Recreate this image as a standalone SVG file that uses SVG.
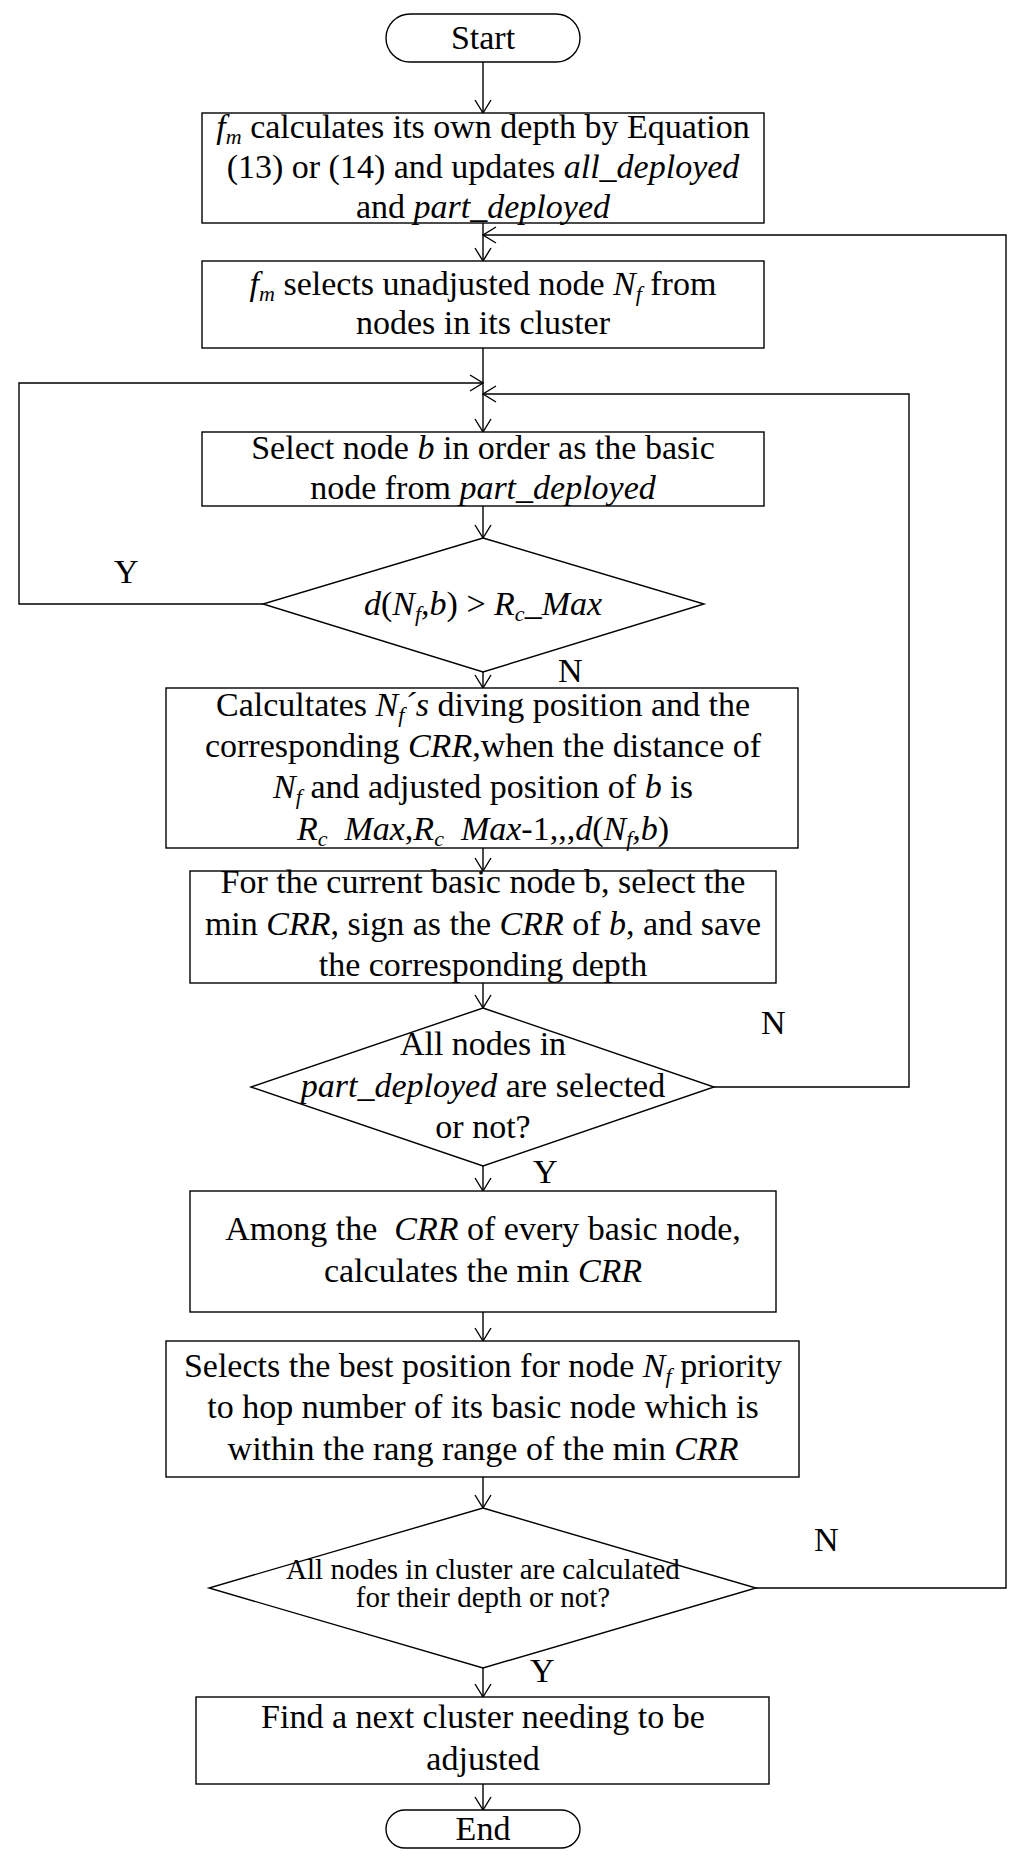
<svg xmlns="http://www.w3.org/2000/svg" width="1024" height="1858" viewBox="0 0 1024 1858">
<style>
.bg{fill:#fff}
.box{fill:#fff;stroke:#000;stroke-width:1.4}
.ln{fill:none;stroke:#000;stroke-width:1.4}
.t{font-family:"Liberation Serif","Times New Roman",serif;font-size:34px;text-anchor:middle;fill:#000}
.lbl{font-family:"Liberation Serif","Times New Roman",serif;font-size:34px;fill:#000}
.sm{font-size:29px}
.i{font-style:italic}
.s{font-size:22px;font-style:italic}
</style>
<defs>
<marker id="ar" markerUnits="userSpaceOnUse" markerWidth="20" markerHeight="20" viewBox="-14 -10 16 20" refX="0" refY="0" orient="auto">
<path d="M-13,-8 L0,0 L-13,8" fill="none" stroke="#000" stroke-width="1.4"/>
</marker>
</defs>
<rect class="bg" x="0" y="0" width="1024" height="1858"/>

<g id="connectors">
<line class="ln" x1="483" y1="62" x2="483" y2="113" marker-end="url(#ar)"/>
<line class="ln" x1="483" y1="223" x2="483" y2="261" marker-end="url(#ar)"/>
<line class="ln" x1="483" y1="348" x2="483" y2="432" marker-end="url(#ar)"/>
<line class="ln" x1="483" y1="506" x2="483" y2="538" marker-end="url(#ar)"/>
<line class="ln" x1="483" y1="672" x2="483" y2="688" marker-end="url(#ar)"/>
<line class="ln" x1="483" y1="848" x2="483" y2="871" marker-end="url(#ar)"/>
<line class="ln" x1="483" y1="983" x2="483" y2="1008" marker-end="url(#ar)"/>
<line class="ln" x1="483" y1="1166" x2="483" y2="1191" marker-end="url(#ar)"/>
<line class="ln" x1="483" y1="1312" x2="483" y2="1341" marker-end="url(#ar)"/>
<line class="ln" x1="483" y1="1477" x2="483" y2="1508" marker-end="url(#ar)"/>
<line class="ln" x1="483" y1="1668" x2="483" y2="1697" marker-end="url(#ar)"/>
<line class="ln" x1="483" y1="1784" x2="483" y2="1810" marker-end="url(#ar)"/>
<polyline class="ln" points="263,604 19,604 19,383 483,383" marker-end="url(#ar)"/>
<polyline class="ln" points="714,1087 909,1087 909,394 483,394" marker-end="url(#ar)"/>
<polyline class="ln" points="756,1588 1006,1588 1006,235 483,235" marker-end="url(#ar)"/>
<text class="lbl" x="114" y="583">Y</text>
<text class="lbl" x="558" y="682">N</text>
<text class="lbl" x="761" y="1034">N</text>
<text class="lbl" x="533" y="1183">Y</text>
<text class="lbl" x="814" y="1551">N</text>
<text class="lbl" x="530" y="1682">Y</text>
</g>

<g id="start">
<rect class="box" x="386" y="14" width="194" height="48" rx="24"/>
<text class="t" x="483" y="49">Start</text>
</g>

<g id="box1">
<rect class="box" x="202" y="113" width="562" height="110"/>
<text class="t" x="483" y="138"><tspan class="i">f</tspan><tspan class="s" dy="6">m</tspan><tspan dy="-6"> calculates its own depth by Equation</tspan></text>
<text class="t" x="483" y="178">(13) or (14) and updates <tspan class="i">all_deployed</tspan></text>
<text class="t" x="483" y="218">and <tspan class="i">part_deployed</tspan></text>
</g>

<g id="box2">
<rect class="box" x="202" y="261" width="562" height="87"/>
<text class="t" x="483" y="295"><tspan class="i">f</tspan><tspan class="s" dy="6">m</tspan><tspan dy="-6"> selects unadjusted node </tspan><tspan class="i">N</tspan><tspan class="s" dy="6">f</tspan><tspan dy="-6"> from</tspan></text>
<text class="t" x="483" y="334">nodes in its cluster</text>
</g>

<g id="box3">
<rect class="box" x="202" y="432" width="562" height="74"/>
<text class="t" x="483" y="459">Select node <tspan class="i">b</tspan> in order as the basic</text>
<text class="t" x="483" y="499">node from <tspan class="i">part_deployed</tspan></text>
</g>

<g id="decision1">
<polygon class="box" points="483,538 704,604 483,672 263,604"/>
<text class="t" x="483" y="615"><tspan class="i">d</tspan>(<tspan class="i">N</tspan><tspan class="s" dy="6">f</tspan><tspan class="i" dy="-6">,b</tspan>) &gt; <tspan class="i">R</tspan><tspan class="s" dy="6">c</tspan><tspan class="i" dy="-6">_Max</tspan></text>
</g>

<g id="box4">
<rect class="box" x="166" y="688" width="632" height="160"/>
<text class="t" x="483" y="716">Calcultates <tspan class="i">N</tspan><tspan class="s" dy="6">f</tspan><tspan class="i" dy="-6">´s</tspan> diving position and the</text>
<text class="t" x="483" y="757">corresponding <tspan class="i">CRR</tspan>,when the distance of</text>
<text class="t" x="483" y="798"><tspan class="i">N</tspan><tspan class="s" dy="6">f</tspan><tspan dy="-6"> and adjusted position of </tspan><tspan class="i">b</tspan> is</text>
<text class="t" x="483" y="840"><tspan class="i">R</tspan><tspan class="s" dy="6">c</tspan><tspan class="i" dy="-6">&#160; Max</tspan>,<tspan class="i">R</tspan><tspan class="s" dy="6">c</tspan><tspan class="i" dy="-6">&#160; Max</tspan>-1,,,<tspan class="i">d</tspan>(<tspan class="i">N</tspan><tspan class="s" dy="6">f</tspan><tspan class="i" dy="-6">,b</tspan>)</text>
</g>

<g id="box5">
<rect class="box" x="190" y="871" width="586" height="112"/>
<text class="t" x="483" y="893">For the current basic node b, select the</text>
<text class="t" x="483" y="935">min <tspan class="i">CRR</tspan>, sign as the <tspan class="i">CRR</tspan> of <tspan class="i">b</tspan>, and save</text>
<text class="t" x="483" y="976">the corresponding depth</text>
</g>

<g id="decision2">
<polygon class="box" points="483,1008 714,1087 483,1166 251,1087"/>
<text class="t" x="483" y="1055">All nodes in</text>
<text class="t" x="483" y="1097"><tspan class="i">part_deployed</tspan> are selected</text>
<text class="t" x="483" y="1138">or not?</text>
</g>

<g id="box6">
<rect class="box" x="190" y="1191" width="586" height="121"/>
<text class="t" x="483" y="1240">Among the&#160; <tspan class="i">CRR</tspan> of every basic node,</text>
<text class="t" x="483" y="1282">calculates the min <tspan class="i">CRR</tspan></text>
</g>

<g id="box7">
<rect class="box" x="166" y="1341" width="633" height="136"/>
<text class="t" x="483" y="1377">Selects the best position for node <tspan class="i">N</tspan><tspan class="s" dy="6">f</tspan><tspan dy="-6"> priority</tspan></text>
<text class="t" x="483" y="1418">to hop number of its basic node which is</text>
<text class="t" x="483" y="1460">within the rang range of the min <tspan class="i">CRR</tspan></text>
</g>

<g id="decision3">
<polygon class="box" points="483,1508 756,1588 483,1668 209,1588"/>
<text class="t sm" x="483" y="1579">All nodes in cluster are calculated</text>
<text class="t sm" x="483" y="1607">for their depth or not?</text>
</g>

<g id="box8">
<rect class="box" x="196" y="1697" width="573" height="87"/>
<text class="t" x="483" y="1728">Find a next cluster needing to be</text>
<text class="t" x="483" y="1770">adjusted</text>
</g>

<g id="end">
<rect class="box" x="386" y="1810" width="194" height="38" rx="19"/>
<text class="t" x="483" y="1840">End</text>
</g>
</svg>
